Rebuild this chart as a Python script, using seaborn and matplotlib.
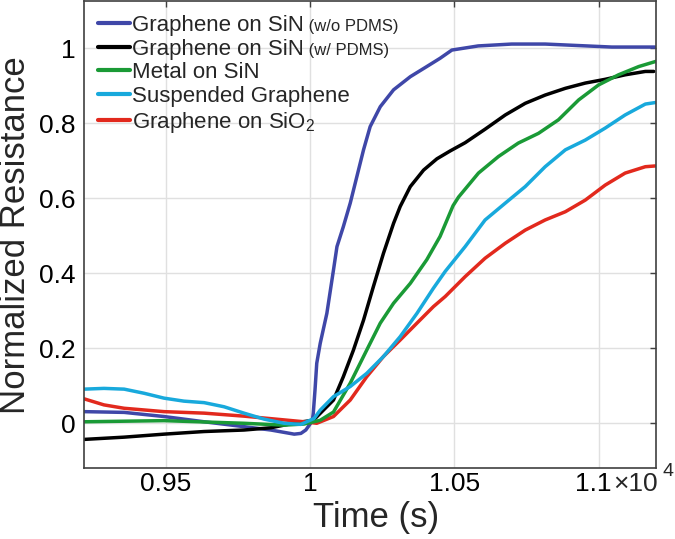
import numpy as np
import pandas as pd
import matplotlib
matplotlib.use("Agg")
import matplotlib.pyplot as plt
import matplotlib.transforms as mtransforms
import seaborn as sns

# series, in legend order
names = ["Graphene on SiN (w/o PDMS)", "Graphene on SiN (w/ PDMS)", "Metal on SiN",
         "Suspended Graphene", "Graphene on SiO$_\\mathregular{2}$"]
colors = ["#3f47a8", "#000000", "#1a9a36", "#18a9dc", "#e2291d"]

# time (s) / normalized resistance
blue_t = [9218, 9356, 9494, 9633, 9771, 9864, 9945, 9968, 9985, 10000, 10008, 10011, 10017,
          10023, 10035, 10058, 10081, 10093, 10115, 10139, 10162, 10185, 10208, 10243, 10289,
          10347, 10404, 10450, 10491, 10582, 10698, 10814, 10929, 11045, 11195]
blue_r = [0.031, 0.029, 0.018, 0.004, -0.009, -0.018, -0.029, -0.027, -0.018, -0.002, 0.009,
          0.027, 0.089, 0.160, 0.213, 0.293, 0.409, 0.471, 0.524, 0.587, 0.658, 0.729, 0.791,
          0.844, 0.889, 0.924, 0.951, 0.973, 0.995, 1.006, 1.011, 1.011, 1.007, 1.003, 1.003]

black_t = [9218, 9356, 9494, 9633, 9771, 9864, 9955, 10011, 10081, 10115, 10150, 10185, 10219,
           10254, 10289, 10312, 10347, 10393, 10439, 10485, 10537, 10606, 10676, 10745, 10814,
           10884, 10953, 11022, 11091, 11161, 11190]
black_r = [-0.043, -0.037, -0.029, -0.022, -0.018, -0.012, 0.002, 0.008, 0.062, 0.124, 0.195,
           0.275, 0.364, 0.453, 0.533, 0.578, 0.631, 0.675, 0.705, 0.726, 0.748, 0.784, 0.822,
           0.853, 0.875, 0.893, 0.907, 0.917, 0.929, 0.938, 0.938]

green_t = [9218, 9494, 9771, 9910, 9979, 10035, 10081, 10139, 10196, 10243, 10289, 10347,
           10404, 10450, 10495, 10514, 10583, 10652, 10721, 10791, 10860, 10930, 10999, 11068,
           11138, 11207]
green_r = [0.004, 0.007, 0.0, -0.005, -0.002, 0.008, 0.030, 0.107, 0.195, 0.267, 0.320, 0.373,
           0.436, 0.498, 0.580, 0.603, 0.667, 0.711, 0.747, 0.773, 0.809, 0.862, 0.902, 0.929,
           0.951, 0.967]

cyan_t = [9218, 9286, 9356, 9425, 9494, 9563, 9633, 9702, 9771, 9841, 9910, 9968, 10014,
          10035, 10081, 10139, 10196, 10254, 10312, 10370, 10427, 10468, 10537, 10606, 10676,
          10745, 10814, 10884, 10953, 11022, 11091, 11161, 11195]
cyan_r = [0.091, 0.093, 0.091, 0.080, 0.067, 0.059, 0.055, 0.044, 0.027, 0.011, 0.0, -0.003,
          0.013, 0.035, 0.071, 0.098, 0.133, 0.178, 0.231, 0.293, 0.360, 0.405, 0.471, 0.542,
          0.587, 0.631, 0.684, 0.729, 0.755, 0.787, 0.822, 0.851, 0.855]

red_t = [9218, 9286, 9356, 9494, 9633, 9771, 9910, 9979, 10023, 10081, 10139, 10196, 10254,
         10312, 10370, 10427, 10468, 10537, 10606, 10676, 10745, 10814, 10884, 10953, 11022,
         11091, 11161, 11195]
red_r = [0.065, 0.049, 0.040, 0.031, 0.027, 0.019, 0.009, 0.004, 0.0, 0.018, 0.062, 0.124,
         0.178, 0.222, 0.267, 0.311, 0.338, 0.391, 0.440, 0.480, 0.515, 0.542, 0.564, 0.595,
         0.635, 0.667, 0.684, 0.686]

x_ticks = [9500, 10000, 10500, 11000]
x_ticklabels = ["0.95", "1", "1.05", "1.1"]
y_ticks = [0, 0.2, 0.4, 0.6, 0.8, 1]
y_ticklabels = ["0", "0.2", "0.4", "0.6", "0.8", "1"]

frames = []
for name, t, r in zip(names, [blue_t, black_t, green_t, cyan_t, red_t],
                      [blue_r, black_r, green_r, cyan_r, red_r]):
    frames.append(pd.DataFrame({"Time": t, "R": r, "Sample": name}))
df = pd.concat(frames, ignore_index=True)

sns.set_style("white")
plt.rcParams["font.family"] = ["Liberation Sans", "DejaVu Sans"]
plt.rcParams["mathtext.fontset"] = "custom"
plt.rcParams["mathtext.rm"] = "Liberation Sans"
plt.rcParams["mathtext.it"] = "Liberation Sans"

fig = plt.figure(figsize=(6.75, 5.39), dpi=100)
ax = fig.add_axes([0.1249, 0.1312, 0.847, 0.8664])

# drawing order: cyan on top
draw_order = [names[0], names[1], names[4], names[2], names[3]]
palette = dict(zip(names, colors))
sns.lineplot(data=df, x="Time", y="R", hue="Sample", hue_order=draw_order, palette=palette,
             estimator=None, sort=True, linewidth=2.5, ax=ax)
for ln in ax.lines:
    ln.set_solid_joinstyle("round")
    ln.set_solid_capstyle("round")

ax.set_xlim(9218, 11198)
ax.set_ylim(-0.12, 1.125)
ax.set_xticks(x_ticks)
ax.set_xticklabels(x_ticklabels)
ax.set_yticks(y_ticks)
ax.set_yticklabels(y_ticklabels)
ax.grid(True, color="#e0e0e0", linewidth=1.0)
ax.set_axisbelow(True)
for sp in ax.spines.values():
    sp.set_color("#404040")
    sp.set_linewidth(1.2)
    sp.set_visible(True)
ax.tick_params(direction="in", length=4, width=1.0, color="#404040", top=True, right=True,
               labelsize=19, labelcolor="black")
ax.tick_params(axis="x", pad=3)
ax.tick_params(axis="y", pad=6)

ax.set_xlabel("Time (s)", fontsize=25)
ax.set_ylabel("Normalized Resistance", fontsize=25)
ax.xaxis.set_label_coords(0.511, -0.069)
ax.yaxis.set_label_coords(-0.092, 0.5)

# shift last tick label a little left, like the original, and add x10^4
last = ax.xaxis.get_major_ticks()[-1].label1
last.set_transform(last.get_transform() +
                   mtransforms.ScaledTranslation(-6 / 100, 0, fig.dpi_scale_trans))
trans = mtransforms.blended_transform_factory(ax.transData, ax.transAxes)
ax.annotate("\u00d710", xy=(11000, 0), xycoords=trans, xytext=(10, -3),
            textcoords="offset points", ha="left", va="top", fontsize=19)
ax.annotate("4", xy=(11000, 0), xycoords=trans, xytext=(46, 3.5),
            textcoords="offset points", ha="left", va="top", fontsize=14)

# legend in original order
old = ax.get_legend()
handles = dict(zip([t.get_text() for t in old.get_texts()], old.legend_handles))
old.remove()
short = ["Graphene on SiN", "Graphene on SiN", names[2], names[3], names[4]]
leg = ax.legend([handles[n] for n in names], short, loc="upper left",
                bbox_to_anchor=(0.024, 0.971), frameon=False, fontsize=16,
                handlelength=1.45, handletextpad=0.1, labelspacing=0.12,
                borderpad=0, borderaxespad=0)
for h in leg.legend_handles:
    h.set_linewidth(3)

# smaller "(w/o PDMS)" parts after the first two legend entries
fig.canvas.draw()
inv = ax.transAxes.inverted()
for txt, extra in zip(leg.get_texts()[:2], [" (w/o PDMS)", " (w/ PDMS)"]):
    bb = txt.get_window_extent()
    x0, y0 = inv.transform((bb.x1, bb.y0))
    ax.text(x0, y0 + 0.004, extra, transform=ax.transAxes, ha="left", va="bottom",
            fontsize=12)

fig.savefig("out.png", dpi=100)
